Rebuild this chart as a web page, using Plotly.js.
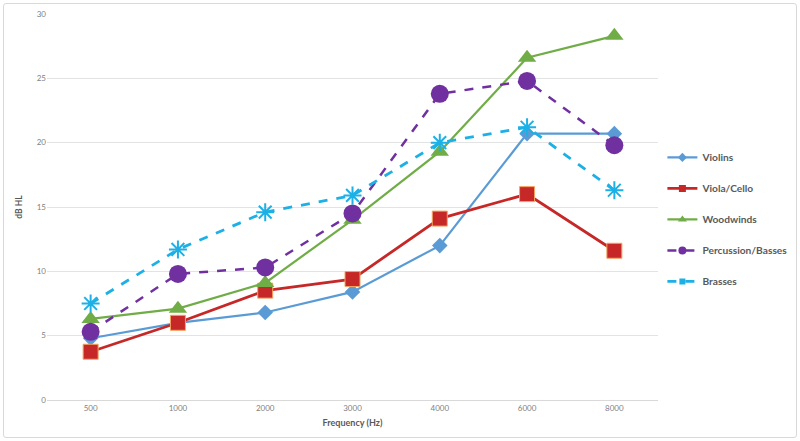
<!DOCTYPE html>
<html><head><meta charset="utf-8">
<script src="https://cdn.plot.ly/plotly-3.0.1.min.js"></script>
<style>html,body{margin:0;padding:0;background:#fff;}#wrap{position:relative;width:800px;height:441px;}#chart{width:800px;height:441px;}#frame{position:absolute;left:3px;top:3px;width:792px;height:433px;border:1.5px solid #d9d9d9;border-radius:3px;pointer-events:none;}</style>
</head><body><div id="wrap"><div id="chart"></div><div id="frame"></div></div>
<script>
const frequencies = ["500","1000","2000","3000","4000","6000","8000"];
const violins = [4.8, 6.0, 6.8, 8.4, 12.0, 20.7, 20.7];
const violaCello = [3.75, 6.0, 8.5, 9.4, 14.1, 16.0, 11.6];
const woodwinds = [6.3, 7.1, 9.1, 14.0, 19.3, 26.6, 28.3];
const percussionBasses = [5.3, 9.8, 10.3, 14.5, 23.8, 24.8, 19.8];
const brasses = [7.5, 11.7, 14.6, 15.9, 20.0, 21.2, 16.3];
const seriesNames = ["Violins","Viola/Cello","Woodwinds","Percussion/Basses","Brasses"];

const styles = [
 {line:{color:'#5B9BD5', width:2.2}, marker:{symbol:'diamond', size:12, color:'#5B9BD5'}, lm:{symbol:'diamond', size:7, color:'#5B9BD5'}},
 {line:{color:'#C62828', width:2.8}, marker:{symbol:'square', size:15, color:'#C62828', line:{color:'#F4A460', width:1}}, lm:{symbol:'square', size:7, color:'#C62828'}},
 {line:{color:'#70AD47', width:2.2}, marker:{symbol:'triangle-up', size:16, color:'#70AD47'}, lm:{symbol:'triangle-up', size:8, color:'#70AD47'}},
 {line:{color:'#7030A0', width:2.5, dash:'dash'}, marker:{symbol:'circle', size:18, color:'#7030A0'}, lm:{symbol:'circle', size:8, color:'#7030A0'}},
 {line:{color:'#1CB0E6', width:2.8, dash:'dash'}, marker:{symbol:'asterisk-open', size:15, color:'#1CB0E6', line:{color:'#1CB0E6', width:2}}, lm:{symbol:'square', size:6, color:'#1CB0E6'}}
];
const seriesData = [violins, violaCello, woodwinds, percussionBasses, brasses];

const traces = [];
seriesData.forEach((vals,i)=>{
  traces.push({type:'scatter', mode:'lines+markers', name:seriesNames[i], x:frequencies, y:vals, line:styles[i].line, marker:styles[i].marker, showlegend:false});
});
seriesData.forEach((vals,i)=>{
  traces.push({type:'scatter', mode:'lines+markers', name:seriesNames[i], x:[null], y:[null], line:styles[i].line, marker:styles[i].lm, legendgroup:'g'+i, showlegend:true});
});

const layout = {
  width:800, height:441,
  margin:{l:47, r:142, t:14, b:41},
  paper_bgcolor:'#fff', plot_bgcolor:'#fff',
  font:{family:'Lato, "Open Sans", sans-serif', color:'#7f7f7f'},
  xaxis:{type:'category', range:[-0.5,6.5], autorange:false, tickfont:{size:8, color:'#7f7f7f'}, showgrid:false, showline:true, linecolor:'#d9d9d9', linewidth:1, ticks:'', zeroline:false,
    title:{text:'Frequency (Hz)', font:{size:9, color:'#595959', weight:'bold'}, standoff:8}},
  yaxis:{range:[0,30], autorange:false, dtick:5, tickfont:{size:8, color:'#7f7f7f'}, gridcolor:'#e3e3e3', gridwidth:1, zeroline:false, showline:false, ticks:'', ticklen:0,
    title:{text:'dB HL', font:{size:8.5, color:'#595959', weight:'bold'}, standoff:12}},
  showlegend:true,
  legend:{xref:'container', yref:'container', x:0.828, xanchor:'left', y:0.676, yanchor:'top', tracegroupgap:12, font:{size:10.2, color:'#595959', weight:'bold'}, bgcolor:'rgba(0,0,0,0)', itemwidth:30}
};
Plotly.newPlot('chart', traces, layout, {displayModeBar:false, staticPlot:true});
</script></body></html>
